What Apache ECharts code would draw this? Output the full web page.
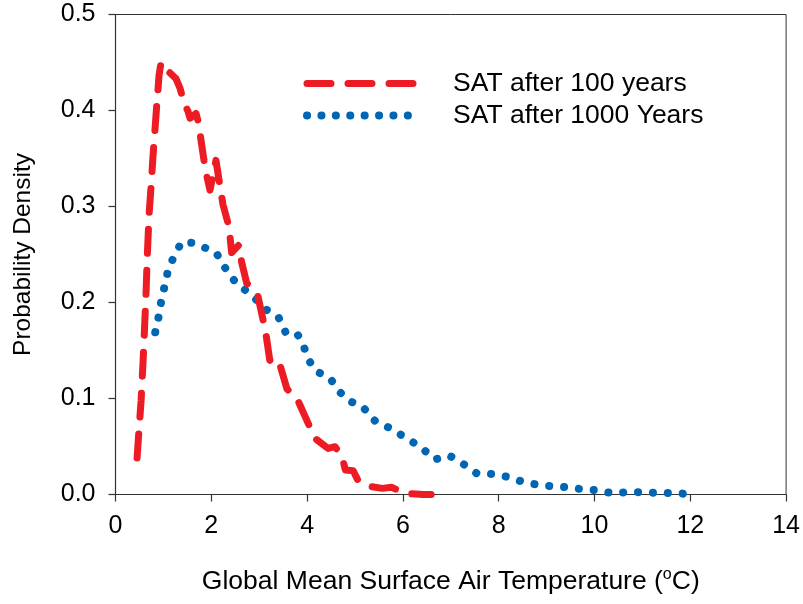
<!DOCTYPE html>
<html>
<head>
<meta charset="utf-8">
<script src="https://cdn.jsdelivr.net/npm/echarts@6/dist/echarts.min.js"></script>
<style>html,body{margin:0;padding:0;background:#fff;}#c{width:803px;height:604px;}</style>
</head>
<body>
<div id="c"></div>
<script>
// Data
var xTicks = [0, 2, 4, 6, 8, 10, 12, 14];
var yTicks = [0.0, 0.1, 0.2, 0.3, 0.4, 0.5];
var seriesNames = ['SAT after 100 years', 'SAT after 1000 Years'];

var sat100 = [
  [0.45,0.038],[0.49,0.067],[0.535,0.098],[0.577,0.140],[0.60,0.166],[0.64,0.213],
  [0.66,0.244],[0.70,0.291],[0.744,0.322],[0.785,0.354],[0.827,0.382],[0.869,0.411],
  [0.91,0.437],[0.952,0.450],[1.015,0.445],[1.14,0.439],[1.265,0.433],[1.348,0.423],
  [1.431,0.408],[1.515,0.399],[1.556,0.392],[1.681,0.397],[1.744,0.385],[1.785,0.369],
  [1.848,0.348],[1.91,0.331],[1.973,0.317],[2.098,0.348],[2.16,0.328],[2.244,0.302],
  [2.369,0.279],[2.425,0.252],[2.577,0.260],[2.633,0.242],[2.74,0.220],[2.79,0.218],
  [2.96,0.210],[3.08,0.182],[3.15,0.164],[3.22,0.140],[3.27,0.137],[3.41,0.139],
  [3.58,0.110],[3.79,0.100],[4.06,0.070],[4.19,0.0575],[4.44,0.048],[4.58,0.0498],
  [4.72,0.041],[4.80,0.0255],[4.96,0.0248],[5.06,0.015],[5.24,0.0089],[5.57,0.0064],
  [5.76,0.0075],[5.97,0.0029],[6.14,0.0008],[6.42,0.0],[6.59,0.0]
];

var sat1000 = [
  [0.83,0.169],[0.90,0.185],[0.95,0.200],[1.02,0.216],[1.09,0.232],[1.21,0.247],
  [1.38,0.263],[1.63,0.262],[1.87,0.257],[2.10,0.252],[2.29,0.236],[2.52,0.220],
  [2.84,0.208],[3.13,0.193],[3.40,0.185],[3.55,0.169],[3.77,0.169],[3.91,0.158],
  [4.0,0.143],[4.17,0.129],[4.48,0.121],[4.66,0.108],[4.85,0.098],[5.15,0.092],
  [5.43,0.076],[5.74,0.069],[6.06,0.059],[6.37,0.0495],[6.66,0.0365],[6.97,0.0405],
  [7.24,0.0325],[7.54,0.022],[7.85,0.0214],[8.17,0.0186],[8.49,0.0134],[8.80,0.0102],
  [9.12,0.0085],[9.43,0.0075],[9.75,0.0054],[10.07,0.0044],[10.38,0.0012],[10.70,0.0026],
  [11.0,0.0023],[11.32,0.0016],[11.64,0.0016],[11.96,0.0005]
];

var FONT = "'Liberation Sans', Arial, Helvetica, sans-serif";
var RED = '#ED1C24';
var BLUE = '#0066B3';
var AX = '#333333';

var chart = echarts.init(document.getElementById('c'), null, {renderer: 'canvas'});
chart.setOption({
  animation: false,
  backgroundColor: '#ffffff',
  grid: {
    left: 115.5, right: 16.5, top: 14.5, bottom: 109.5,
    show: true, borderColor: AX, borderWidth: 1, backgroundColor: 'transparent'
  },
  legend: {
    orient: 'vertical',
    left: 298, top: 65,
    itemWidth: 115, itemHeight: 14, itemGap: 5,
    textStyle: {fontFamily: FONT, fontSize: 26.5, lineHeight: 26, color: '#000', padding: [0, 0, 0, 26]},
    data: [
      {name: seriesNames[0], itemStyle: {opacity: 0},
       lineStyle: {color: RED, width: 7, type: [24, 17], cap: 'round', opacity: 1}},
      {name: seriesNames[1], itemStyle: {opacity: 0},
       lineStyle: {color: BLUE, width: 8, type: [0.1, 14.3], cap: 'round', opacity: 1}}
    ]
  },
  xAxis: {
    type: 'value', min: xTicks[0], max: xTicks[xTicks.length - 1], interval: 2,
    name: 'Global Mean Surface Air Temperature ({sup|o}C)',
    nameLocation: 'middle', nameGap: 72,
    nameTextStyle: {
      fontFamily: FONT, fontSize: 26.5, color: '#000',
      rich: {sup: {fontFamily: FONT, fontSize: 16, color: '#000', padding: [0, 0, 14, 0]}}
    },
    axisLine: {show: true, onZero: false, lineStyle: {color: AX, width: 1.2}},
    axisTick: {show: true, inside: false, length: 7, lineStyle: {color: AX, width: 1.2}},
    axisLabel: {fontFamily: FONT, fontSize: 25, color: '#000', margin: 19},
    splitLine: {show: false}
  },
  yAxis: {
    type: 'value', min: yTicks[0], max: yTicks[yTicks.length - 1], interval: 0.1,
    name: 'Probability Density',
    nameLocation: 'middle', nameGap: 80,
    nameTextStyle: {fontFamily: FONT, fontSize: 24.5, color: '#000'},
    axisLine: {show: true, lineStyle: {color: AX, width: 1.2}},
    axisTick: {show: true, inside: false, length: 7, lineStyle: {color: AX, width: 1.2}},
    axisLabel: {fontFamily: FONT, fontSize: 25, color: '#000', margin: 20,
      formatter: function (v) { return v.toFixed(1); }},
    splitLine: {show: false}
  },
  series: [
    {
      name: seriesNames[0], type: 'line', data: sat100, symbol: 'none', smooth: false,
      lineStyle: {color: RED, width: 7, type: [24, 17], cap: 'round', join: 'round'},
      itemStyle: {color: RED}, z: 3
    },
    {
      name: seriesNames[1], type: 'line', data: sat1000, symbol: 'none', smooth: false,
      lineStyle: {color: BLUE, width: 8, type: [0.1, 14.8], cap: 'round', join: 'round'},
      itemStyle: {color: BLUE}, z: 2
    }
  ]
});
</script>
</body>
</html>
